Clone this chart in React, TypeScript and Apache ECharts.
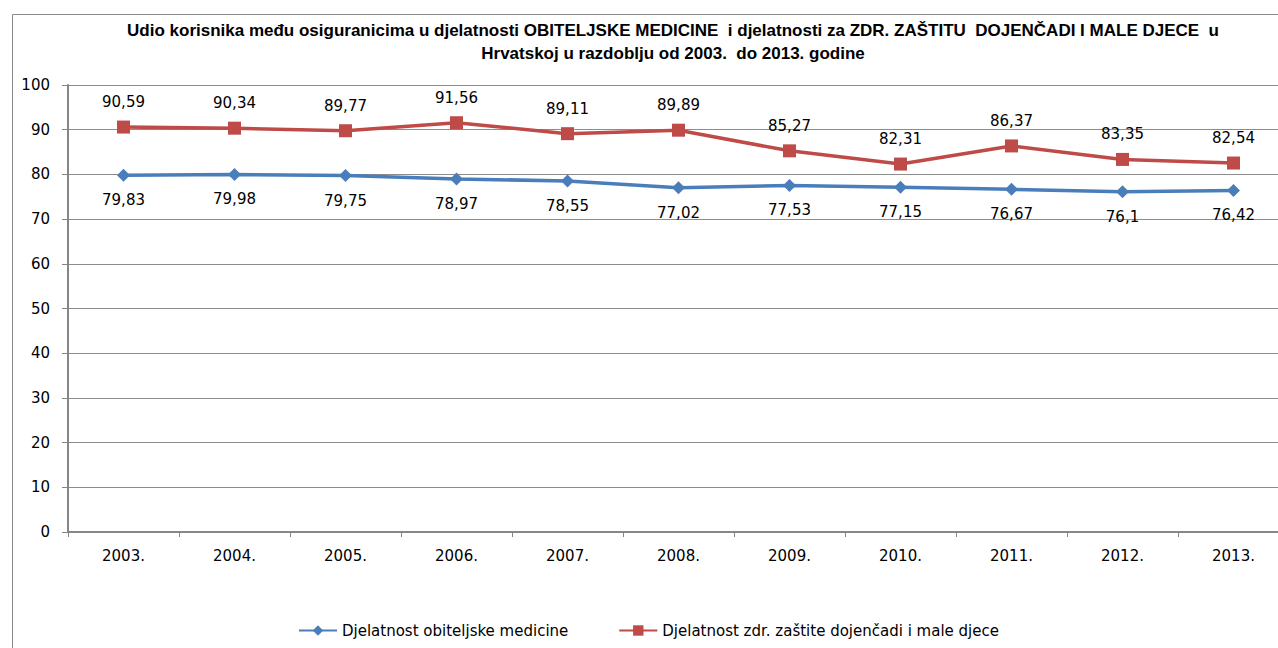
import React, { useEffect, useRef } from "react";
import * as echarts from "echarts";

const categories = ["2003.", "2004.", "2005.", "2006.", "2007.", "2008.", "2009.", "2010.", "2011.", "2012.", "2013."];
const obiteljska = [79.83, 79.98, 79.75, 78.97, 78.55, 77.02, 77.53, 77.15, 76.67, 76.1, 76.42];
const dojencad = [90.59, 90.34, 89.77, 91.56, 89.11, 89.89, 85.27, 82.31, 86.37, 83.35, 82.54];
const seriesNames = ["Djelatnost obiteljske medicine", "Djelatnost zdr. zaštite dojenčadi i male djece"];
const titleText =
  "Udio korisnika među osiguranicima u djelatnosti OBITELJSKE MEDICINE  i djelatnosti za ZDR. ZAŠTITU  DOJENČADI I MALE DJECE  u\nHrvatskoj u razdoblju od 2003.  do 2013. godine";

const FONT = "DejaVu Sans";
const fmt = (p: any) => String(p.value).replace(".", ",");

export default function App() {
  const ref = useRef<HTMLDivElement>(null);
  useEffect(() => {
    if (!ref.current) return;
    const chart = echarts.init(ref.current, undefined, { renderer: "svg" });
    chart.setOption({
      animation: false,
      backgroundColor: "#ffffff",
      title: {
        text: titleText,
        left: 668,
        top: 14,
        textAlign: "center",
        textStyle: {
          fontFamily: "Liberation Sans",
          fontWeight: "bold",
          fontSize: 17,
          lineHeight: 23,
          color: "#000",
        },
      },
      graphic: [
        {
          type: "rect",
          left: 10,
          top: 12,
          shape: { width: 1400, height: 800 },
          style: { fill: "none", stroke: "#8a8a8a", lineWidth: 1 },
          silent: true,
          z: -10,
        },
      ],
      legend: {
        left: 293,
        top: 618,
        itemWidth: 38,
        itemHeight: 13,
        itemGap: 50,
        textStyle: { fontFamily: FONT, fontSize: 15, color: "#000" },
        data: seriesNames,
      },
      grid: { left: 68, top: 85, right: 11, bottom: 116 },
      xAxis: {
        type: "category",
        data: categories,
        boundaryGap: true,
        axisLine: { lineStyle: { color: "#868686", width: 2 } },
        axisTick: { show: true, length: 5, lineStyle: { color: "#868686" } },
        axisLabel: { fontFamily: FONT, fontSize: 15, color: "#000", margin: 16 },
      },
      yAxis: {
        type: "value",
        min: 0,
        max: 100,
        interval: 10,
        axisLine: { show: true, lineStyle: { color: "#868686", width: 2 } },
        axisTick: { show: true, length: 6, lineStyle: { color: "#868686" } },
        axisLabel: { fontFamily: FONT, fontSize: 15, color: "#000", margin: 18 },
        splitLine: { lineStyle: { color: "#8c8c8c", width: 1 } },
      },
      series: [
        {
          name: seriesNames[0],
          type: "line",
          data: obiteljska,
          symbol: "diamond",
          symbolSize: 13,
          lineStyle: { color: "#4A7EBB", width: 3.5 },
          itemStyle: { color: "#4A7EBB" },
          label: {
            show: true,
            position: "bottom",
            distance: 11,
            formatter: fmt,
            fontFamily: FONT,
            fontSize: 15,
            color: "#000",
          },
        },
        {
          name: seriesNames[1],
          type: "line",
          data: dojencad,
          symbol: "rect",
          symbolSize: 13,
          lineStyle: { color: "#BE4B48", width: 3.5 },
          itemStyle: { color: "#BE4B48" },
          label: {
            show: true,
            position: "top",
            distance: 11,
            formatter: fmt,
            fontFamily: FONT,
            fontSize: 15,
            color: "#000",
          },
        },
      ],
    });
    return () => chart.dispose();
  }, []);
  return (
    <div
      ref={ref}
      style={{ position: "fixed", left: 0, top: 0, width: 1300, height: 648, background: "#fff" }}
    />
  );
}
